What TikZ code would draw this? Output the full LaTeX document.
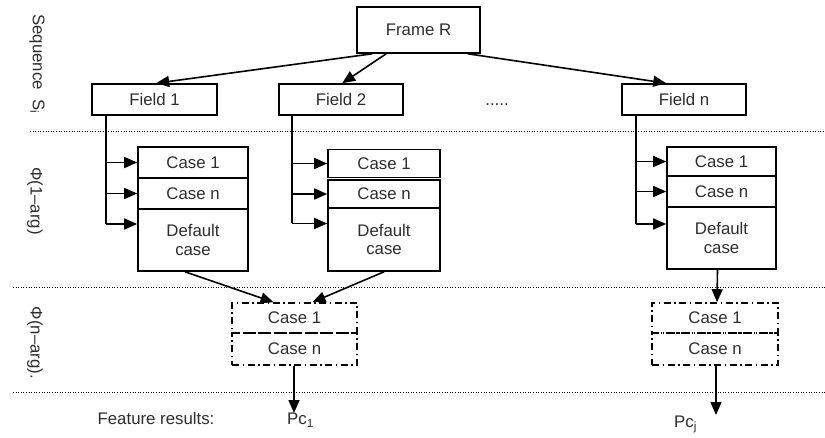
\documentclass[tikz,border=0pt]{standalone}
\usepackage{fontspec}
\setmainfont{Liberation Sans}
\usetikzlibrary{arrows.meta}
\definecolor{txt}{HTML}{2E2E2E}
\begin{document}
\begin{tikzpicture}[x=1pt,y=-1pt,
  font=\fontsize{16.8}{18.5}\selectfont,
  every node/.style={text=txt},
  box/.style={draw=black,line width=1.6pt,inner sep=0pt,align=center},
  dbox/.style={draw=black,line width=1.6pt,inner sep=0pt,align=center,
     dash pattern=on 7pt off 3.5pt on 1.5pt off 3.5pt},
  conn/.style={draw=black,line width=1.6pt},
  arr/.style={conn,-{Triangle[length=13pt,width=11pt]}},
  sep/.style={draw=black,line width=0.9pt,dash pattern=on 1pt off 1.6pt},
  side/.style={rotate=-90,anchor=center}]
\useasboundingbox[fill=white] (0,0) rectangle (825,438);

% separators
\coordinate (s1a) at (30,131);  \coordinate (s1b) at (825,131);
\coordinate (s2a) at (13,287);  \coordinate (s2b) at (825,287);
\coordinate (s3a) at (13,392);  \coordinate (s3b) at (825,392);
\draw[sep] (s1a) -- (s1b);
\draw[sep] (s2a) -- (s2b);
\draw[sep] (s3a) -- (s3b);

% side labels
\node[side] (lseq) at (37,64) {Sequence\ \ S\textsubscript{i}};
\node[side] (l1) at (35,201) {Φ(1–arg)};
\node[side] (ln) at (35,343) {Φ(n–arg).};

% top
\node[box,minimum width=123pt,minimum height=46pt] (fr) at (418.5,30) {Frame R};
\node[box,minimum width=125pt,minimum height=31pt] (f1) at (154.5,99.5) {Field 1};
\node[box,minimum width=124pt,minimum height=31pt] (f2) at (341,99.5) {Field 2};
\node[box,minimum width=124pt,minimum height=31pt] (fn) at (684,99.5) {Field n};
\node (dots) at (497,105) {.....};

\draw[arr] ([xshift=16pt]fr.south west) -- ([xshift=65pt]f1.north west);
\draw[arr] ([xshift=30pt]fr.south west) -- ([xshift=64pt]f2.north west);
\draw[arr] ([xshift=-13pt]fr.south east) -- ([xshift=45pt]fn.north west);

% column 1
\node[box,minimum width=110pt,minimum height=31pt] (c1a) at (193,162.5) {Case 1};
\node[box,minimum width=110pt,minimum height=31pt] (c1b) at (193,193.5) {Case n};
\node[box,minimum width=110pt,minimum height=62pt] (c1c) at (193,240) {Default\\case};
% column 2
\node[box,minimum width=112pt,minimum height=28pt] (c2a) at (384,163.5) {Case 1};
\node[box,minimum width=112pt,minimum height=28pt] (c2b) at (384,194) {Case n};
\node[box,minimum width=112pt,minimum height=63pt] (c2c) at (384,239.5) {Default\\case};
% column 3
\node[box,minimum width=109pt,minimum height=29pt] (c3a) at (721.5,161.5) {Case 1};
\node[box,minimum width=109pt,minimum height=31pt] (c3b) at (721.5,191.5) {Case n};
\node[box,minimum width=109pt,minimum height=62pt] (c3c) at (721.5,238) {Default\\case};

% branch connectors
\coordinate (v1) at ([xshift=15pt]f1.south west);
\coordinate (v2) at ([xshift=14pt]f2.south west);
\coordinate (v3) at ([xshift=15pt]fn.south west);
\coordinate (e1) at ([yshift=16pt]c1c.west);
\coordinate (e2) at ([yshift=16pt]c2c.west);
\coordinate (e3) at ([yshift=14pt]c3c.west);
\draw[conn] (v1) -- (v1 |- e1);
\draw[conn] (v2) -- (v2 |- e2);
\draw[conn] (v3) -- (v3 |- e3);
\draw[arr] (v1 |- c1a.west) -- (c1a.west);
\draw[arr] (v1 |- c1b.west) -- (c1b.west);
\draw[arr] (v1 |- e1) -- (e1);
\draw[arr] (v2 |- c2a.west) -- (c2a.west);
\draw[arr] (v2 |- c2b.west) -- (c2b.west);
\draw[arr] (v2 |- e2) -- (e2);
\draw[arr] (v3 |- c3a.west) -- (c3a.west);
\draw[arr] (v3 |- c3b.west) -- (c3b.west);
\draw[arr] (v3 |- e3) -- (e3);

% n-arg boxes
\node[dbox,minimum width=125pt,minimum height=30pt] (d1a) at (294.5,318) {Case 1};
\node[dbox,minimum width=125pt,minimum height=32pt] (d1b) at (294.5,349) {Case n};
\node[dbox,minimum width=126pt,minimum height=30pt] (d3a) at (715,318) {Case 1};
\node[dbox,minimum width=126pt,minimum height=32pt] (d3b) at (715,349) {Case n};

\draw[arr] ([xshift=-8pt]c1c.south) -- ([xshift=-21pt]d1a.north);
\draw[arr] (c2c.south) -- ([xshift=18pt]d1a.north);
\draw[arr] ([xshift=-4pt]c3c.south) -- ([xshift=2pt]d3a.north);

% results
\node (fres) at (156,418) {Feature results:};
\node[anchor=north west,inner sep=0pt] (pc1) at (287,413) {Pc\textsubscript{1}};
\node[anchor=north west,inner sep=0pt] (pcj) at (674,416) {Pc\textsubscript{j}};
\coordinate (t1) at (294,413);
\coordinate (t3) at (716,415);
\draw[arr] (d1b.south -| t1) -- (t1);
\draw[arr] (d3b.south -| t3) -- (t3);
\end{tikzpicture}
\end{document}
